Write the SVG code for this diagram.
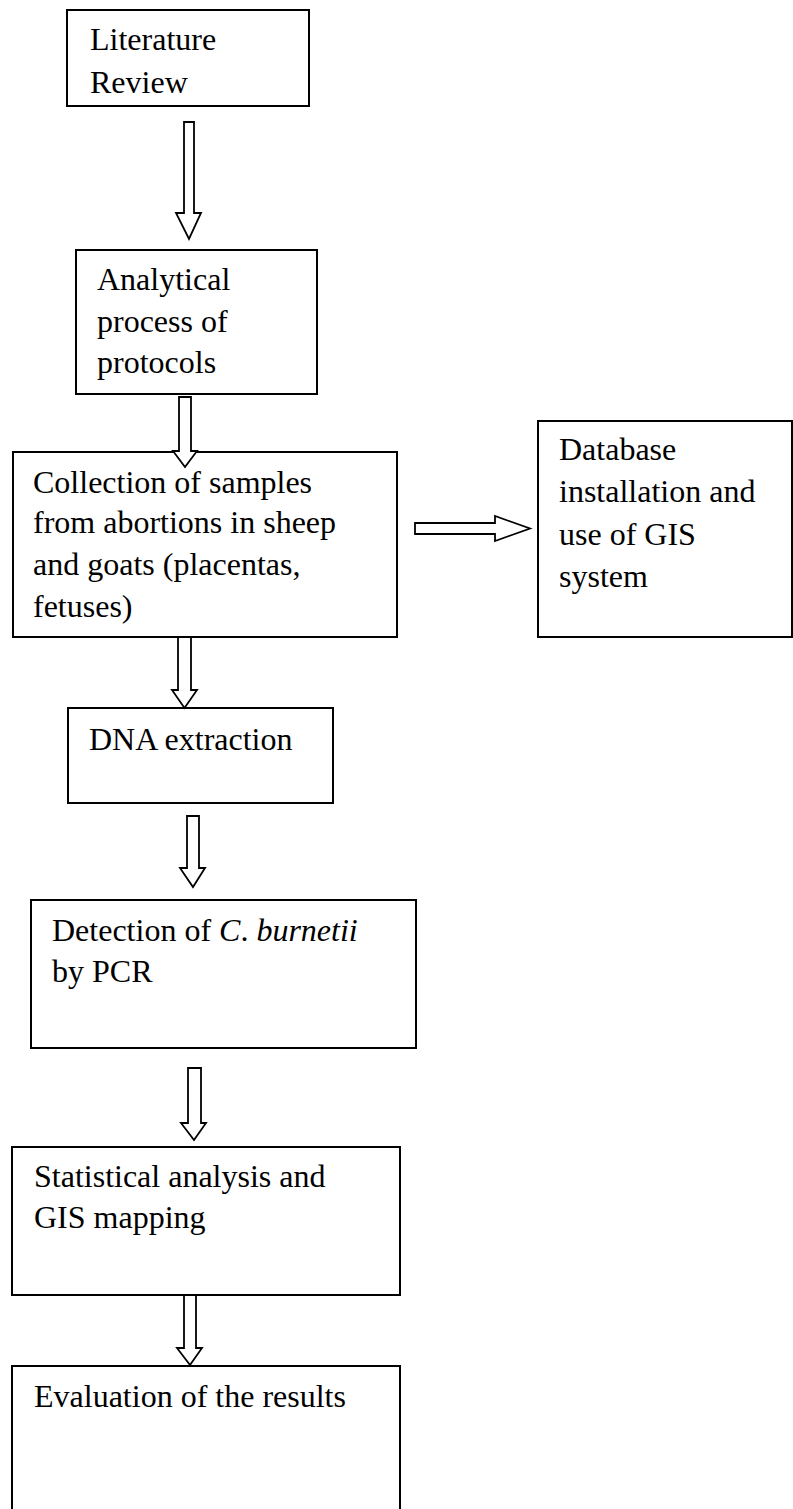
<svg xmlns="http://www.w3.org/2000/svg" width="793" height="1509" viewBox="0 0 793 1509">
<style>
.box{fill:#fff;stroke:#000;stroke-width:2}
.arr{fill:#fff;stroke:#000;stroke-width:1.8;stroke-linejoin:miter}
text{font-family:"Liberation Serif","Times New Roman",serif;font-size:32px;fill:#000}
.it{font-style:italic}
</style>
<rect width="793" height="1509" fill="#fff"/>
<g id="n1"><rect class="box" x="67" y="10" width="242" height="96"/><text x="90" y="50">Literature</text><text x="90" y="93">Review</text></g>
<g id="n2"><rect class="box" x="76" y="250" width="241" height="144"/><text x="97" y="290">Analytical</text><text x="97" y="332">process of</text><text x="97" y="373">protocols</text></g>
<g id="n3"><rect class="box" x="13" y="452" width="384" height="185"/><text x="33" y="493">Collection of samples</text><text x="33" y="533">from abortions in sheep</text><text x="33" y="575">and goats (placentas,</text><text x="33" y="617">fetuses)</text></g>
<g id="n4"><rect class="box" x="538" y="421" width="254" height="216"/><text x="559" y="460">Database</text><text x="559" y="502">installation and</text><text x="559" y="545">use of GIS</text><text x="559" y="587">system</text></g>
<g id="n5"><rect class="box" x="68" y="708" width="265" height="95"/><text x="89" y="750">DNA extraction</text></g>
<g id="n6"><rect class="box" x="31" y="900" width="385" height="148"/><text x="52" y="941">Detection of <tspan class="it">C</tspan>. <tspan class="it">burnetii</tspan></text><text x="52" y="982">by PCR</text></g>
<g id="n7"><rect class="box" x="12" y="1147" width="388" height="148"/><text x="34" y="1187">Statistical analysis and</text><text x="34" y="1228">GIS mapping</text></g>
<g id="n8"><rect class="box" x="12" y="1366" width="388" height="160"/><text x="34" y="1407">Evaluation of the results</text></g>
<g id="connectors">
<polygon class="arr" points="184,122 194,122 194,213 201,213 189,239 176,213 184,213"/>
<polygon class="arr" points="179,397 191,397 191,451 197,451 185,467 173,451 179,451"/>
<polygon class="arr" points="415,523 495,523 495,516 530,528.5 495,541 495,534 415,534"/>
<polygon class="arr" points="178,637 191,637 191,690 197,690 184.5,708 172,690 178,690"/>
<polygon class="arr" points="187,816 199,816 199,868 205,868 193,887 180,868 187,868"/>
<polygon class="arr" points="188,1068 201,1068 201,1123 206,1123 194,1140 181,1123 188,1123"/>
<polygon class="arr" points="184,1295 196,1295 196,1348 202,1348 190,1365 177,1348 184,1348"/>
</g>
</svg>
